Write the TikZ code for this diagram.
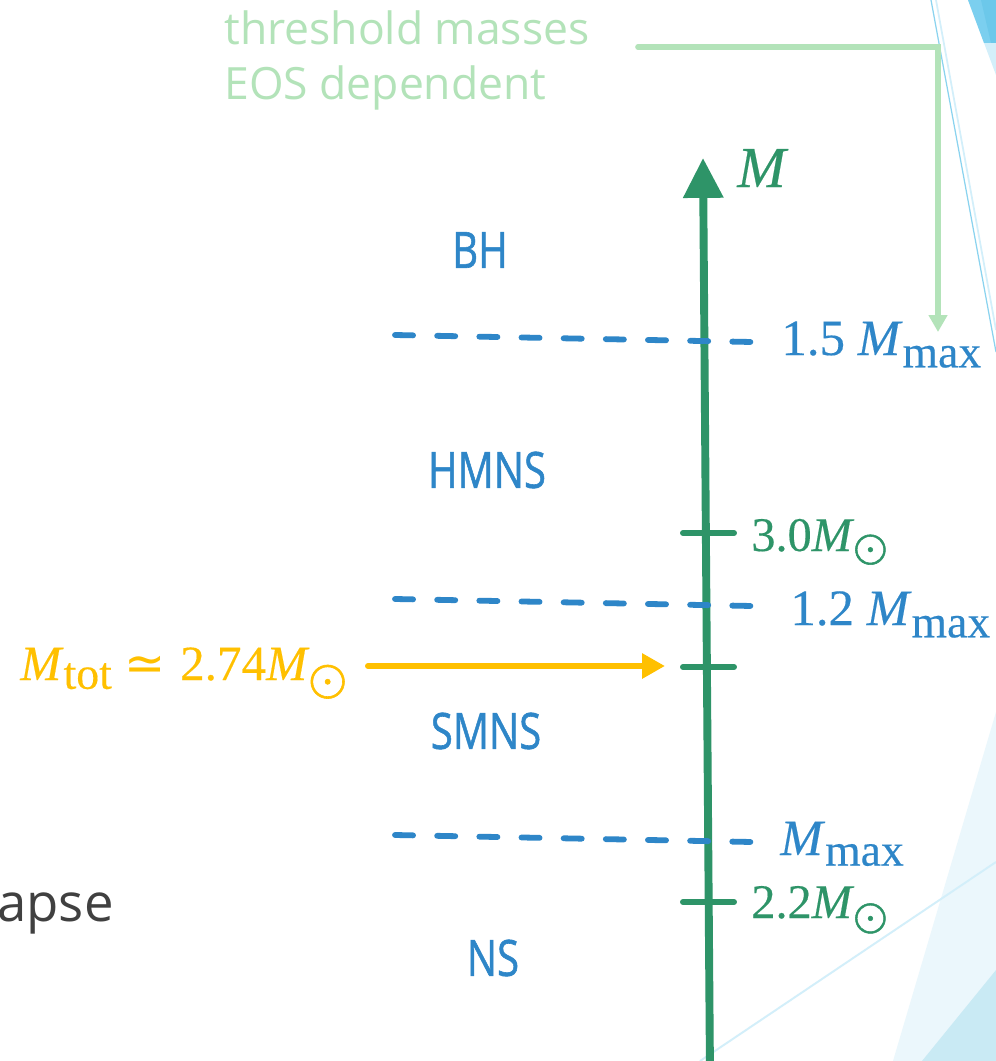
\documentclass[tikz,border=0pt]{standalone}
\usepackage{fontspec}
\usepackage{graphicx}
\setmainfont{Open Sans}
\newfontfamily\regionsans[FakeBold=1.2]{Open Sans}
\newfontfamily\mathserif[FakeBold=0.3]{Liberation Serif}
\newfontfamily\opsym{DejaVu Sans}
\newfontfamily\lmsym[FakeBold=1.2]{latinmodern-math.otf}
\usetikzlibrary{arrows.meta}

\definecolor{axisgreen}{HTML}{2E9468}
\definecolor{regionblue}{HTML}{2E86C8}
\definecolor{totyellow}{HTML}{FFC000}
\definecolor{notegreen}{HTML}{B3E3B9}
\definecolor{facetpale}{HTML}{EBF7FC}
\definecolor{facetlight}{HTML}{C9EAF4}
\definecolor{facetline}{HTML}{D3EFFA}
\definecolor{facetsky}{HTML}{8AD3EF}
\definecolor{facetdeep}{HTML}{7BCFEF}
\definecolor{facetdeeper}{HTML}{6CC8EA}
\definecolor{slidegray}{HTML}{404040}

% lowered subscript text and the solar symbol
\newcommand\lowsub[3]{\raisebox{-#1}{\fontsize{#2}{#2}\selectfont #3}}
\newcommand\solar[2]{\kern-0.5pt\raisebox{-#1}{\lmsym\fontsize{#2}{#2}\selectfont ⊙}}

\tikzset{
  px/.style={x=0.02cm, y=-0.02cm},
  lbl/.style={inner sep=0pt, anchor=base west},
  regionlbl/.style={inner sep=0pt, text=regionblue, font=\regionsans\fontsize{28.5}{28.5}\selectfont},
  bluelbl/.style={lbl, text=regionblue, font=\mathserif\fontsize{29}{29}\selectfont},
  greenlbl/.style={lbl, text=axisgreen, font=\mathserif\fontsize{27.5}{27.5}\selectfont},
  threshline/.style={regionblue, line width=3.3pt, line cap=round,
    dash pattern=on 10.3pt off 13.7pt},
  tickmark/.style={axisgreen, line width=3.4pt, line cap=round},
}

\begin{document}
\begin{tikzpicture}[px]
\useasboundingbox (0,0) rectangle (996,1061);
\fill[white] (0,0) rectangle (996,1061);

% slide facets at the right edge
\fill[facetpale] (996,712) -- (996,1061) -- (893,1061) -- cycle;
\fill[facetlight] (996,970) -- (996,1061) -- (922,1061) -- cycle;
\draw[facetline, line width=1.1pt] (700,1061) -- (996,862);
\fill[facetline] (968,0) -- (996,0) -- (996,75) -- cycle;
\fill[facetdeep] (968,0) -- (996,0) -- (996,43) -- (984,43) -- cycle;
\fill[facetdeeper] (981,0) -- (996,0) -- (996,43) -- (991,43) -- cycle;
\draw[facetline, line width=1pt] (936,0) -- (996,330);
\draw[facetsky, line width=0.7pt] (931,0) -- (996,352);

% note on the threshold masses
\node[lbl, text=notegreen, font=\fontsize{25.3}{25.3}\selectfont] (note1) at (224,45) {threshold masses};
\node[lbl, text=notegreen, font=\fontsize{25.3}{25.3}\selectfont] (note2) at (224,100) {EOS dependent};
\coordinate (noteA) at (638,47);
\coordinate (noteB) at (938,47);
\coordinate (noteC) at (938,332);
\draw[notegreen, line width=3.2pt, line cap=round,
  -{Triangle[length=9.6pt, width=10.2pt]}] (noteA) -- (noteB) -- (noteC);

% mass axis
\coordinate (axisfoot) at (710,1075);
\coordinate (axistip) at (703,158);
\draw[axisgreen, line width=4.5pt, -{Triangle[length=22.7pt, width=22pt]}] (axisfoot) -- (axistip);
\node[lbl, text=axisgreen, font=\mathserif\itshape\fontsize{33}{33}\selectfont] (axisname) at (737,187) {M};

% ticks on the axis
\coordinate (t30a) at (683,533); \coordinate (t30b) at (734,533);
\coordinate (ttota) at (683,667); \coordinate (ttotb) at (734,667);
\coordinate (t22a) at (683,902); \coordinate (t22b) at (734,902);
\draw[tickmark] (t30a) -- (t30b);
\draw[tickmark] (ttota) -- (ttotb);
\draw[tickmark] (t22a) -- (t22b);

% threshold lines
\coordinate (d15a) at (395,335); \coordinate (d15b) at (752,342);
\coordinate (d12a) at (395,599); \coordinate (d12b) at (752,606);
\coordinate (dmxa) at (395,835); \coordinate (dmxb) at (752,842);
\draw[threshline] (d15a) -- (d15b);
\draw[threshline] (d12a) -- (d12b);
\draw[threshline] (dmxa) -- (dmxb);

% regions
\node[regionlbl] (bh) at (480,250) {\scalebox{0.8}[1]{BH}};
\node[regionlbl] (hmns) at (487,470) {\scalebox{0.8}[1]{HMNS}};
\node[regionlbl] (smns) at (486,731) {\scalebox{0.8}[1]{SMNS}};
\node[regionlbl] (ns) at (493,958) {\scalebox{0.8}[1]{NS}};

% threshold values
\node[bluelbl] (v15) at (781,355) {1.5\hspace{0.25em}\textit{M}\lowsub{7pt}{26}{max}};
\node[bluelbl] (v12) at (790,625) {1.2\hspace{0.25em}\textit{M}\lowsub{7pt}{26}{max}};
\node[bluelbl] (vmx) at (780,855) {\textit{M}\lowsub{6pt}{26}{max}};

% tick values
\node[greenlbl] (v30) at (751,551) {3.0\textit{M}\solar{5.5pt}{25}};
\node[greenlbl] (v22) at (751,918) {2.2\textit{M}\solar{6.5pt}{25}};

% total mass of the binary
\node[lbl, text=totyellow, font=\mathserif\fontsize{28}{28}\selectfont] (mtot) at (20,680)
  {\textit{M}\lowsub{5pt}{26}{tot}\hspace{0.25em}{\opsym ≃}\hspace{0.3em}2.74\textit{M}\solar{8pt}{28}};
\coordinate (tottail) at (368,666);
\coordinate (tothead) at (665,666);
\draw[totyellow, line width=3.4pt, line cap=round,
  -{Triangle[length=13pt, width=13.6pt]}] (tottail) -- (tothead);

% fragment of the slide text at the left edge
\node[lbl, text=slidegray, font=\fontsize{30}{30}\selectfont] (frag) at (-3,921) {apse};
\end{tikzpicture}
\end{document}
